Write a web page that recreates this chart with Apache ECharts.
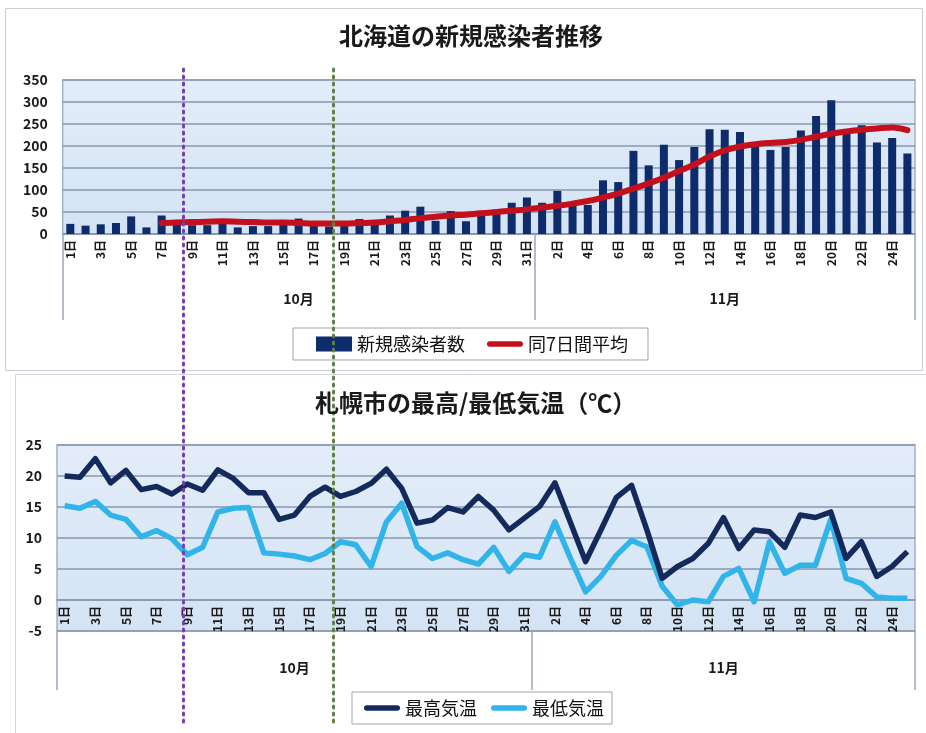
<!DOCTYPE html>
<html>
<head>
<meta charset="utf-8">
<script src="https://cdn.jsdelivr.net/npm/echarts@6/dist/echarts.min.js"></script>
<style>
html,body{margin:0;padding:0;background:#fff;}
#c{width:926px;height:733px;}
</style>
</head>
<body>
<div id="c"></div>
<script>
// ---------- data ----------
const categories = [
 '10月1日','10月2日','10月3日','10月4日','10月5日','10月6日','10月7日','10月8日','10月9日','10月10日',
 '10月11日','10月12日','10月13日','10月14日','10月15日','10月16日','10月17日','10月18日','10月19日','10月20日',
 '10月21日','10月22日','10月23日','10月24日','10月25日','10月26日','10月27日','10月28日','10月29日','10月30日','10月31日',
 '11月1日','11月2日','11月3日','11月4日','11月5日','11月6日','11月7日','11月8日','11月9日','11月10日',
 '11月11日','11月12日','11月13日','11月14日','11月15日','11月16日','11月17日','11月18日','11月19日','11月20日',
 '11月21日','11月22日','11月23日','11月24日','11月25日'
];
const dayLabels = [
 '1日','2日','3日','4日','5日','6日','7日','8日','9日','10日',
 '11日','12日','13日','14日','15日','16日','17日','18日','19日','20日',
 '21日','22日','23日','24日','25日','26日','27日','28日','29日','30日','31日',
 '1日','2日','3日','4日','5日','6日','7日','8日','9日','10日',
 '11日','12日','13日','14日','15日','16日','17日','18日','19日','20日',
 '21日','22日','23日','24日','25日'
];
const monthGroups = [
 {label:'10月', first:0, last:30},
 {label:'11月', first:31, last:55}
];
const newCases = [
 23,19,22,25,40,15,42,32,20,20,25,15,18,18,32,35,19,17,20,34,22,42,53,62,30,52,29,53,55,71,83,
 71,98,64,66,122,118,189,156,203,168,198,238,237,232,205,191,198,235,268,304,231,247,208,218,183
];
const avg7 = [
 null,null,null,null,null,null,25,26,27,28,29,28,27,26,26,25,24,24,24,25,26,29,32,36,39,42,44,47,50,53,56,
 60,64,69,75,83,92,103,115,128,143,158,176,190,199,204,207,209,214,221,228,233,237,240,242,236
];
const maxTemp = [
 20.0,19.8,22.8,18.9,20.9,17.8,18.3,17.1,18.7,17.7,21.0,19.6,17.3,17.3,13.0,13.7,16.7,18.2,16.7,17.5,
 18.8,21.1,18.0,12.4,12.9,14.9,14.2,16.7,14.5,11.3,13.2,
 15.1,18.9,12.6,6.2,11.3,16.5,18.5,11.3,3.5,5.4,6.7,9.1,13.3,8.3,11.3,11.0,8.5,13.7,13.3,14.2,6.7,9.4,3.8,5.4,7.8
];
const minTemp = [
 15.2,14.8,15.9,13.7,13.0,10.2,11.2,9.9,7.3,8.5,14.2,14.8,14.9,7.6,7.4,7.1,6.5,7.5,9.4,8.9,
 5.4,12.6,15.6,8.6,6.7,7.6,6.5,5.8,8.5,4.6,7.3,
 6.9,12.6,6.8,1.3,3.8,7.2,9.6,8.6,2.2,-0.8,0.0,-0.3,3.8,5.1,-0.3,9.4,4.3,5.6,5.6,13.0,3.5,2.7,0.5,0.3,0.3
];
const casesTicks = [0,50,100,150,200,250,300,350];
const tempTicks = [-5,0,5,10,15,20,25];
// event markers (fractional day index on the shared date scale)
const eventDays = [7.9, 17.8];

// ---------- styling ----------
const FONT = '"Noto Sans CJK JP", "Noto Sans", sans-serif';
const gridLineColor = '#8797ad';
const plotBg = {type:'linear',x:0,y:0,x2:0,y2:1,colorStops:[{offset:0,color:'#e3edf9'},{offset:1,color:'#d4e3f4'}]};
const monthLabelIdx = monthGroups.map(g => Math.floor((g.first + g.last) / 2));
const monthTickIdx = monthGroups.map(g => g.first);
const monthOf = i => { for (const g of monthGroups) if (i >= g.first && i <= g.last) return g.label; return ''; };
const lineIcon = 'path://M3,0 H37 A3,3 0 0 1 37,6 H3 A3,3 0 0 1 3,0 Z';

// bottom grid geometry (pixels) — day axis sits on the 0 °C line
const g1Top = 445, g1Height = 186;
const zeroOffset = -g1Height * (0 - tempTicks[0]) / (tempTicks[tempTicks.length-1] - tempTicks[0]);

function dayAxis(gridIndex, offset) {
  return {
    type:'category', gridIndex, data:categories, position:'bottom', offset:offset,
    boundaryGap:true,
    axisLine:{show:true, onZero:false, lineStyle:{color:gridLineColor, width:1.5}},
    axisTick:{show:false},
    axisLabel:{interval:1, rotate:90, margin:6, fontFamily:FONT, fontSize:12, fontWeight:'bold', color:'#1a1a1a',
      formatter:(v,i)=>dayLabels[i]},
    splitLine:{show:false}
  };
}
function monthAxis(gridIndex, tickLen, labelMargin) {
  return {
    type:'category', gridIndex, data:categories, position:'bottom',
    boundaryGap:true,
    axisLine:{show:false, onZero:false},
    axisTick:{show:true, length:tickLen, interval:(i)=>monthTickIdx.includes(i), lineStyle:{color:'#9aa6b6', width:1.5}},
    axisLabel:{interval:(i)=>monthLabelIdx.includes(i), margin:labelMargin, fontFamily:FONT, fontSize:14, fontWeight:'bold', color:'#1a1a1a',
      formatter:(v,i)=>monthOf(i)},
    splitLine:{show:false}
  };
}

const chart = echarts.init(document.getElementById('c'), null, {renderer:'canvas'});
chart.setOption({
  backgroundColor:'#ffffff',
  animation:false,
  graphic:[
    {type:'rect', shape:{x:5.5,y:8.5,width:917,height:362}, style:{fill:'none', stroke:'#c9ced6', lineWidth:1}, silent:true, z:-10},
    {type:'rect', shape:{x:15.5,y:374.5,width:915,height:365}, style:{fill:'none', stroke:'#d3d7de', lineWidth:1}, silent:true, z:-10}
  ],
  title:[
    {text:'北海道の新規感染者推移', left:339, top:24, padding:0,
      textStyle:{fontFamily:FONT, fontSize:24, fontWeight:'bold', color:'#1a1a1a'}},
    {text:'札幌市の最高/最低気温（℃）', left:315, top:391, padding:0,
      textStyle:{fontFamily:FONT, fontSize:24, fontWeight:'bold', color:'#1a1a1a'}}
  ],
  legend:[
    {data:[{name:'新規感染者数', icon:'rect'},{name:'同7日間平均', icon:lineIcon}],
     left:293, top:328, padding:[7,20,7,23], itemGap:22, itemWidth:36, itemHeight:15,
     borderColor:'#9ea6b0', borderWidth:1, selectedMode:false,
     textStyle:{fontFamily:FONT, fontSize:18, color:'#111'}},
    {data:[{name:'最高気温', icon:lineIcon},{name:'最低気温', icon:lineIcon}],
     left:352, top:692, padding:[7,8,7,12], itemGap:14, itemWidth:36, itemHeight:15,
     borderColor:'#9ea6b0', borderWidth:1, selectedMode:false,
     textStyle:{fontFamily:FONT, fontSize:18, color:'#111'}}
  ],
  grid:[
    {left:62.7, right:11, top:80, height:154, show:true, backgroundColor:plotBg, borderColor:'#a4b1c2', borderWidth:1.5},
    {left:57, right:11, top:g1Top, height:g1Height, show:true, backgroundColor:plotBg, borderColor:'#a4b1c2', borderWidth:1.5},
    {left:62.7, right:11, top:65, height:657, show:false}
  ],
  xAxis:[
    dayAxis(0, 0),
    monthAxis(0, 86, 58),
    dayAxis(1, zeroOffset),
    monthAxis(1, 59, 30),
    {type:'value', gridIndex:2, min:0, max:categories.length, show:false}
  ],
  yAxis:[
    {type:'value', gridIndex:0, min:casesTicks[0], max:casesTicks[casesTicks.length-1], interval:50,
     axisLine:{show:false}, axisTick:{show:false},
     axisLabel:{margin:15, fontFamily:FONT, fontSize:14, fontWeight:'bold', color:'#1a1a1a'},
     splitLine:{lineStyle:{color:gridLineColor, width:1.5}}},
    {type:'value', gridIndex:1, min:tempTicks[0], max:tempTicks[tempTicks.length-1], interval:5,
     axisLine:{show:false}, axisTick:{show:false},
     axisLabel:{margin:15, fontFamily:FONT, fontSize:14, fontWeight:'bold', color:'#1a1a1a'},
     splitLine:{lineStyle:{color:gridLineColor, width:1.5}}},
    {type:'value', gridIndex:2, min:0, max:1, show:false}
  ],
  series:[
    {name:'新規感染者数', type:'bar', xAxisIndex:0, yAxisIndex:0, data:newCases, barWidth:8,
     itemStyle:{color:'#0e2b6b'}, z:2},
    {name:'同7日間平均', type:'line', xAxisIndex:0, yAxisIndex:0, data:avg7, smooth:0.4, symbol:'none',
     connectNulls:false, color:'#c4101c', lineStyle:{color:'#c4101c', width:6, cap:'round'}, itemStyle:{color:'#c4101c'}, z:3},
    {name:'最高気温', type:'line', xAxisIndex:2, yAxisIndex:1, data:maxTemp, symbol:'none',
     color:'#142a5c', lineStyle:{color:'#142a5c', width:5.5, join:'round'}, itemStyle:{color:'#142a5c'}, z:3},
    {name:'最低気温', type:'line', xAxisIndex:2, yAxisIndex:1, data:minTemp, symbol:'none',
     color:'#31b4ea', lineStyle:{color:'#31b4ea', width:5.5, join:'round'}, itemStyle:{color:'#31b4ea'}, z:2},
    {name:'events', type:'line', xAxisIndex:4, yAxisIndex:2, data:[], symbol:'none', silent:true, z:10,
     markLine:{silent:true, symbol:'none', label:{show:false}, animation:false,
       data:[
         {xAxis:eventDays[0], lineStyle:{color:'#7a3db0', width:3, type:[2,5], cap:'round'}},
         {xAxis:eventDays[1], lineStyle:{color:'#5f8040', width:3, type:[2,5], cap:'round'}}
       ]}}
  ]
});
</script>
</body>
</html>
